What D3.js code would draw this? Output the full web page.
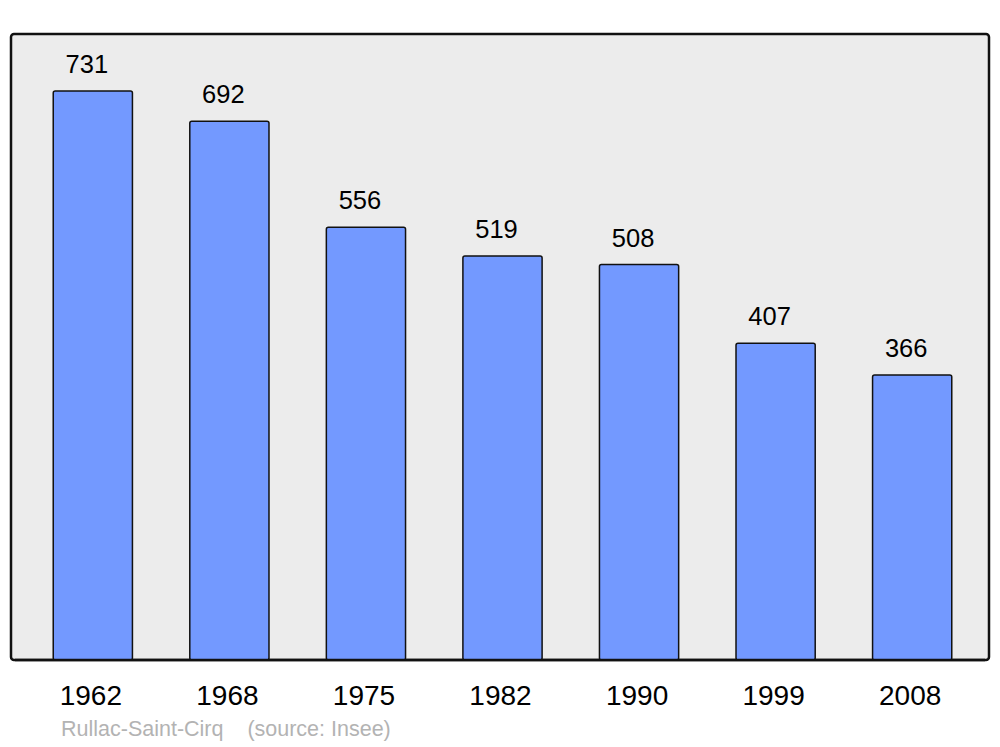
<!DOCTYPE html>
<html>
<head>
<meta charset="utf-8">
<script src="https://cdn.jsdelivr.net/npm/d3@7"></script>
<style>
  body { margin: 0; background: #fff; }
  text { font-family: "Liberation Sans", Arial, sans-serif; }
</style>
</head>
<body>
<svg id="chart"></svg>
<script>
const years = ['1962', '1968', '1975', '1982', '1990', '1999', '2008'];
const population = [731, 692, 556, 519, 508, 407, 366];
const caption = 'Rullac-Saint-Cirq    (source: Insee)';

const width = 1000;
const height = 747;
const panel = {left: 11, top: 34, right: 989, bottom: 660};

const svg = d3.select('#chart')
  .attr('width', width)
  .attr('height', height);

svg.append('rect')
  .attr('x', panel.left)
  .attr('y', panel.top)
  .attr('width', panel.right - panel.left)
  .attr('height', panel.bottom - panel.top)
  .attr('rx', 3)
  .style('fill', '#ececec')
  .style('stroke', '#111')
  .style('stroke-width', 2.5);

const x = d3.scaleBand()
  .domain(years)
  .range([15, 990])
  .paddingInner(0.42)
  .paddingOuter(0.28);

const y = d3.scaleLinear()
  .domain([0, d3.max(population) * 1.1])
  .range([panel.bottom, panel.top]);

const data = years.map((yr, i) => ({year: yr, value: population[i]}));

svg.selectAll('rect.bar')
  .data(data)
  .enter().append('rect')
  .attr('class', 'bar')
  .attr('x', d => x(d.year))
  .attr('y', d => y(d.value))
  .attr('width', x.bandwidth())
  .attr('height', d => panel.bottom - y(d.value))
  .attr('rx', 2)
  .style('fill', '#7399ff')
  .style('stroke', '#111')
  .style('stroke-width', 1.5);

// value labels sit a little left of the bar centre in the original
svg.selectAll('text.value')
  .data(data)
  .enter().append('text')
  .attr('class', 'value')
  .attr('x', d => x(d.year) + x.bandwidth() / 2 - 6)
  .attr('y', d => y(d.value) - 18)
  .attr('text-anchor', 'middle')
  .style('font-size', '25.5px')
  .style('fill', '#000')
  .text(d => d.value);

// bottom edge over the bar feet, kept inside the rounded corners
svg.append('line')
  .attr('x1', panel.left + 4)
  .attr('x2', panel.right - 4)
  .attr('y1', panel.bottom)
  .attr('y2', panel.bottom)
  .style('stroke', '#111')
  .style('stroke-width', 2.5);

const xAxis = svg.append('g')
  .attr('transform', `translate(-2,${panel.bottom})`)
  .call(d3.axisBottom(x).tickSize(0).tickPadding(0));
xAxis.select('.domain').remove();
xAxis.selectAll('text')
  .attr('dy', null)
  .attr('y', 45)
  .style('font-family', '"Liberation Sans", Arial, sans-serif')
  .style('font-size', '28px')
  .style('fill', '#000');

svg.append('text')
  .attr('x', 61)
  .attr('y', 736)
  .style('font-size', '21.5px')
  .style('fill', '#b3b3b3')
  .style('white-space', 'pre')
  .attr('xml:space', 'preserve')
  .text(caption);
</script>
</body>
</html>
